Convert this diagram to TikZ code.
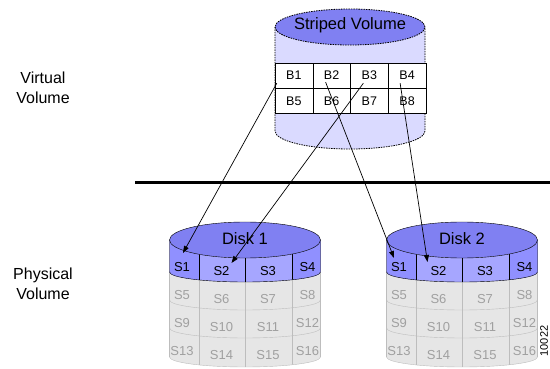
\documentclass[tikz,border=0pt]{standalone}
\usepackage{fontspec}
\setmainfont{Liberation Sans}
\usetikzlibrary{arrows.meta,positioning,calc}
\definecolor{diskTop}{HTML}{8080F2}
\definecolor{bandSide}{HTML}{9090FF}
\definecolor{bandMid}{HTML}{A6A6FF}
\definecolor{rowGrey}{HTML}{E6E6E6}
\definecolor{rowLine}{HTML}{BDBDBD}
\definecolor{rowText}{HTML}{A0A0A0}
\definecolor{volBody}{HTML}{DADAFF}
\tikzset{
    cell/.style={draw,fill=white,minimum width=37.75pt,minimum height=25pt,inner sep=0pt,font=\fontsize{12.5}{14}\selectfont},
    slab/.style={inner sep=0pt,font=\fontsize{13}{15}\selectfont},
    greylab/.style={slab,text=rowText},
    arrow/.style={-{Triangle[length=7pt,width=5pt]},line width=0.7pt},
    side/.style={align=center,font=\fontsize{16}{20}\selectfont},
    volline/.style={dash pattern=on 1.5pt off 1pt,line width=0.8pt}
}
% one disk: #1 centre x, #2 name, #3 label
\newcommand{\diskunit}[3]{%
    % grey rows
    \fill[rowGrey] (#1-75.5,240) -- (#1-75.5,357) arc[start angle=180,end angle=360,x radius=75.5pt,y radius=10pt] -- (#1+75.5,240) -- cycle;
    \begin{scope}
        \clip (#1-75.5,240) -- (#1-75.5,357) arc[start angle=180,end angle=360,x radius=75.5pt,y radius=10pt] -- (#1+75.5,240) -- cycle;
        \foreach \dx in {-46,0,47} \draw[rowLine] (#1+\dx,240) -- (#1+\dx,372);
    \end{scope}
    \foreach \ry in {300,328,357} \draw[rowLine] (#1-75.5,\ry) arc[start angle=180,end angle=360,x radius=75.5pt,y radius=10pt];
    \draw[rowLine] (#1-75.5,272) -- (#1-75.5,357) (#1+75.5,272) -- (#1+75.5,357);
    % blue band
    \begin{scope}
        \clip (#1-75.5,240) -- (#1-75.5,272) arc[start angle=180,end angle=360,x radius=75.5pt,y radius=10pt] -- (#1+75.5,240) arc[start angle=0,end angle=-180,x radius=75.5pt,y radius=18pt] -- cycle;
        \fill[bandMid] (#1-80,220) rectangle (#1+80,290);
        \fill[bandSide] (#1-80,220) rectangle (#1-46,290);
        \fill[bandSide] (#1+47,220) rectangle (#1+80,290);
        \foreach \dx in {-46,0,47} \draw (#1+\dx,240) -- (#1+\dx,290);
    \end{scope}
    \draw (#1-75.5,240) -- (#1-75.5,272) arc[start angle=180,end angle=360,x radius=75.5pt,y radius=10pt] -- (#1+75.5,240);
    \draw[fill=diskTop] (#1,240) ellipse[x radius=75.5pt,y radius=18pt];
    \node[font=\fontsize{16.5}{19}\selectfont] (#2) at (#1,239) {#3};
    % segment labels
    \foreach \c/\dx/\dy in {1/-63/0,2/-23.5/4,3/23/4,4/62.5/0} {
        \node[slab] (#2s\c) at (#1+\dx,267+\dy) {S\c};
        \foreach \r in {1,2,3} {
            \pgfmathtruncatemacro{\n}{\c+4*\r}
            \node[greylab] (#2s\n) at (#1+\dx,267+\dy+28*\r) {S\n};
        }
    }
}

\begin{document}
\begin{tikzpicture}[x=1pt,y=-1pt]
    \useasboundingbox (0,0) rectangle (550,369);

    % striped volume
    \fill[volBody] (275,27) -- (275,131) arc[start angle=180,end angle=360,x radius=75pt,y radius=18pt] -- (425,27) -- cycle;
    \draw[volline] (275,27) -- (275,131) arc[start angle=180,end angle=360,x radius=75pt,y radius=18pt] -- (425,27);
    \draw[volline,fill=diskTop] (350,27) ellipse[x radius=75pt,y radius=18pt];
    \node[font=\fontsize{16.5}{19}\selectfont] (striped) at (350,25) {Striped Volume};
    \foreach \c in {1,...,4} {
        \node[cell] (b\c) at (275+37.75*\c-18.875,75.5) {B\c};
        \pgfmathtruncatemacro{\m}{\c+4}
        \node[cell,below=0pt of b\c] (b\m) {B\m};
    }

    % divider
    \coordinate (divL) at (135,183);
    \coordinate (divR) at (550,183);
    \draw[line width=3pt] (divL) -- (divR);

    \node[side] (virt) at (43,88) {Virtual\\Volume};
    \node[side] (phys) at (43,284) {Physical\\Volume};

    \diskunit{245}{d1}{Disk 1}
    \diskunit{462}{d2}{Disk 2}

    \node[rotate=90,font=\fontsize{11}{13}\selectfont] (fignum) at (544,341) {10022};

    % block to segment mapping
    \draw[arrow] ([xshift=2pt,yshift=5pt]b1.south west) -- ([xshift=1pt,yshift=14pt]d1s1.center);
    \draw[arrow] ([xshift=-6pt,yshift=5pt]b3.south) -- ([xshift=10pt,yshift=8pt]d1s2.center);
    \draw[arrow] ([xshift=-6pt,yshift=6pt]b2.south) -- ([xshift=-5pt,yshift=9pt]d2s1.center);
    \draw[arrow] ([xshift=-7pt,yshift=5pt]b4.south) -- ([xshift=-11pt,yshift=9pt]d2s2.center);
\end{tikzpicture}
\end{document}
